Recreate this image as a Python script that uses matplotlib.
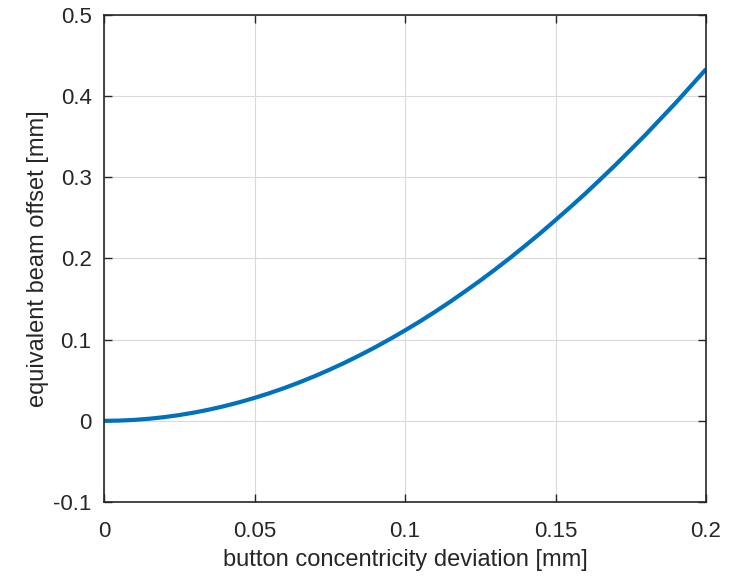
import matplotlib
matplotlib.use("Agg")
import matplotlib.pyplot as plt

deviation_mm = [0.000, 0.005, 0.010, 0.015, 0.020, 0.025, 0.030, 0.035, 0.040, 0.045,
                0.050, 0.055, 0.060, 0.065, 0.070, 0.075, 0.080, 0.085, 0.090, 0.095,
                0.100, 0.105, 0.110, 0.115, 0.120, 0.125, 0.130, 0.135, 0.140, 0.145,
                0.150, 0.155, 0.160, 0.165, 0.170, 0.175, 0.180, 0.185, 0.190, 0.195,
                0.200]
beam_offset_mm = [0.0, 0.000286, 0.00114, 0.002565, 0.00456, 0.007106, 0.01022, 0.01389,
                  0.01813, 0.02290, 0.02825, 0.03412, 0.04054, 0.04753, 0.05503, 0.06311,
                  0.07168, 0.08085, 0.09048, 0.1007, 0.1114, 0.1226, 0.1344, 0.1467,
                  0.1596, 0.1728, 0.1867, 0.2010, 0.2160, 0.2313, 0.2473, 0.2636,
                  0.2803, 0.2978, 0.3156, 0.3341, 0.3528, 0.3724, 0.3920, 0.4126,
                  0.4332]
xticks = [0, 0.05, 0.1, 0.15, 0.2]
xticklabels = ["0", "0.05", "0.1", "0.15", "0.2"]
yticks = [-0.1, 0, 0.1, 0.2, 0.3, 0.4, 0.5]
yticklabels = ["-0.1", "0", "0.1", "0.2", "0.3", "0.4", "0.5"]

plt.rcParams['font.family'] = ['Liberation Sans', 'DejaVu Sans']
dark = '#262626'

fig = plt.figure(figsize=(7.29, 5.78), dpi=100)
ax = fig.add_axes([104/729, 76/578, 602/729, 487/578])
ax.plot(deviation_mm, beam_offset_mm, color='#0072BD', lw=3.0, solid_capstyle='butt')
ax.set_xlim(0, 0.2)
ax.set_ylim(-0.1, 0.5)
ax.set_xticks(xticks)
ax.set_xticklabels(xticklabels)
ax.set_yticks(yticks)
ax.set_yticklabels(yticklabels)
ax.grid(True, color='#dadada', lw=0.8)
ax.set_axisbelow(True)
ax.tick_params(direction='in', length=6, width=1, colors=dark, labelsize=16,
               top=True, right=True)
ax.tick_params(axis='x', pad=14)
ax.tick_params(axis='y', pad=9)
for s in ax.spines.values():
    s.set_color(dark)
    s.set_linewidth(1.2)
ax.set_xlabel('button concentricity deviation [mm]', fontsize=17, color=dark, labelpad=5)
ax.set_ylabel('equivalent beam offset [mm]', fontsize=17, color=dark, labelpad=3)
fig.savefig('out.png', dpi=100)
